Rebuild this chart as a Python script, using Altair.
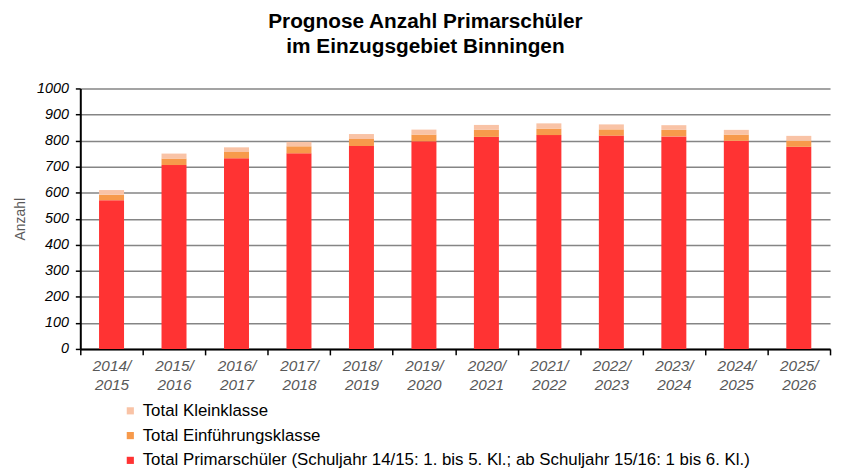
import altair as alt
import pandas as pd

years = ["2014/ 2015", "2015/ 2016", "2016/ 2017", "2017/ 2018", "2018/ 2019", "2019/ 2020",
         "2020/ 2021", "2021/ 2022", "2022/ 2023", "2023/ 2024", "2024/ 2025", "2025/ 2026"]
primar = [571, 706, 732, 751, 779, 797, 814, 821, 819, 816, 799, 776]
einf = [21, 25, 24, 27, 27, 26, 27, 25, 24, 25, 24, 24]
klein = [18, 19, 18, 17, 19, 19, 19, 20, 19, 18, 18, 18]

s_klein = "Total Kleinklasse"
s_einf = "Total Einführungsklasse"
s_primar = "Total Primarschüler (Schuljahr 14/15: 1. bis 5. Kl.; ab Schuljahr 15/16: 1 bis 6. Kl.)"
series = [s_klein, s_einf, s_primar]
colors = ["#F9C3A6", "#F79A4B", "#FF3333"]

rows = []
for i, y in enumerate(years):
    rows.append({"Jahr": y, "Serie": s_primar, "Wert": primar[i], "ord": 0})
    rows.append({"Jahr": y, "Serie": s_einf, "Wert": einf[i], "ord": 1})
    rows.append({"Jahr": y, "Serie": s_klein, "Wert": klein[i], "ord": 2})
df = pd.DataFrame(rows)

FONT = "Liberation Sans"

chart = alt.Chart(df).mark_bar(width=alt.RelativeBandSize(0.40)).encode(
    x=alt.X("Jahr:N", sort=years,
            scale=alt.Scale(paddingInner=0, paddingOuter=0),
            axis=alt.Axis(title=None, labelAngle=0, tickBand="extent",
                          labelExpr="split(datum.label, ' ')",
                          labelFont=FONT, labelFontSize=15.5, labelFontStyle="italic",
                          labelColor="#595959", labelLineHeight=19, labelPadding=4,
                          domainColor="black", domainWidth=2,
                          tickColor="black", tickWidth=1.5, tickSize=6, grid=False)),
    y=alt.Y("Wert:Q", stack="zero",
            scale=alt.Scale(domain=[0, 1000], nice=False),
            axis=alt.Axis(title="Anzahl", values=list(range(0, 1001, 100)), format="d",
                          labelFont=FONT, labelFontSize=14.5, labelFontStyle="italic",
                          labelColor="black", labelPadding=7,
                          titleFont=FONT, titleFontSize=14, titleFontWeight="normal",
                          titleColor="#595959", titlePadding=9,
                          domainColor="black", domainWidth=2,
                          tickColor="black", tickWidth=1.5, tickSize=5,
                          grid=True, gridColor="#858585", gridWidth=1.6)),
    color=alt.Color("Serie:N", scale=alt.Scale(domain=series, range=colors),
                    legend=alt.Legend(title=None, orient="none", legendX=42, legendY=317,
                                      direction="vertical", symbolType="square",
                                      symbolSize=52, symbolStrokeWidth=0,
                                      labelFont=FONT, labelFontSize=17, labelColor="black",
                                      labelOffset=4, rowPadding=7, padding=0,
                                      labelLimit=800)),
    order=alt.Order("ord:Q", sort="ascending"),
).properties(
    width=757, height=263,
    autosize=alt.AutoSizeParams(type="none"),
    padding={"left": 73, "top": 79, "right": 4, "bottom": 120},
    title=alt.TitleParams(["Prognose Anzahl Primarschüler", "im Einzugsgebiet Binningen"],
                          font=FONT, fontSize=21, fontWeight="bold", color="black",
                          anchor="middle", dx=-30, offset=24, lineHeight=25.5),
).configure_view(stroke=None)

chart.save("out.html", embed_options={"renderer": "svg", "actions": False})
